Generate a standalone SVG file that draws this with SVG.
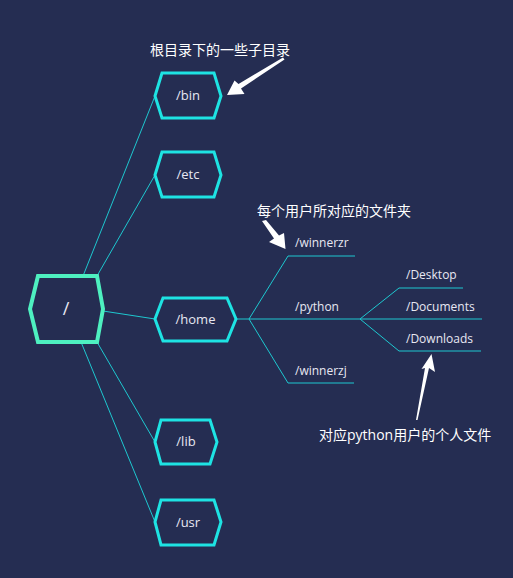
<svg xmlns="http://www.w3.org/2000/svg" width="513" height="578" viewBox="0 0 513 578">
<style>
.bg{fill:#252d52}
.hex{fill:#252d52;stroke:#1ee3e3;stroke-width:3}
.root{fill:#252d52;stroke:#4ef0c0;stroke-width:4}
.ln{fill:none;stroke:#1ec8d0;stroke-width:1}
.t{font-family:"Open Sans","Noto Sans","Liberation Sans",sans-serif;fill:#e8e8f2}
.nt{font-size:13px;text-anchor:middle}
.lt{font-size:12px}
.cn{font-family:"Open Sans","Noto Sans CJK SC",sans-serif;font-size:14px;fill:#ffffff}
.arr{fill:#ffffff}
</style>
<rect class="bg" x="0" y="0" width="513" height="578"/>
<g id="connectors">
<path class="ln" d="M83 276 L155 96"/>
<path class="ln" d="M97 276 L155 175"/>
<path class="ln" d="M103 311 L155 319"/>
<path class="ln" d="M97 342 L155 442"/>
<path class="ln" d="M81 342 L155 522"/>
<path class="ln" d="M236 319 L360 319"/>
<path class="ln" d="M249 319 L288 256 L355 256"/>
<path class="ln" d="M249 319 L288 383 L354 383"/>
<path class="ln" d="M360 319 L482 319"/>
<path class="ln" d="M360 319 L399 288 L463 288"/>
<path class="ln" d="M360 319 L399 351 L481 351"/>
</g>
<g id="node-root">
<polygon class="root" points="30,309 38,276 97,276 103,309 97,342 38,342"/>
<text class="t" x="66" y="315" font-size="18" text-anchor="middle">/</text>
</g>
<g id="node-bin">
<polygon class="hex" points="155,96 162,73 214,73 221,96 214,118 162,118"/>
<text class="t nt" x="188" y="100">/bin</text>
</g>
<g id="node-etc">
<polygon class="hex" points="155,175 162,152 214,152 221,175 214,197 162,197"/>
<text class="t nt" x="188" y="179">/etc</text>
</g>
<g id="node-home">
<polygon class="hex" points="155,319 163,298 227,298 236,319 227,341 163,341"/>
<text class="t nt" x="195.5" y="324">/home</text>
</g>
<g id="node-lib">
<polygon class="hex" points="155,442 161,420 210,420 217,442 210,464 161,464"/>
<text class="t nt" x="186" y="446">/lib</text>
</g>
<g id="node-usr">
<polygon class="hex" points="155,522 161,500 214,500 221,522 214,545 161,545"/>
<text class="t nt" x="188" y="527">/usr</text>
</g>
<g id="node-winnerzr"><text class="t lt" x="295" y="247">/winnerzr</text></g>
<g id="node-python"><text class="t lt" x="295" y="311">/python</text></g>
<g id="node-winnerzj"><text class="t lt" x="295" y="375">/winnerzj</text></g>
<g id="node-desktop"><text class="t lt" x="406" y="279">/Desktop</text></g>
<g id="node-documents"><text class="t lt" x="406" y="311">/Documents</text></g>
<g id="node-downloads"><text class="t lt" x="406" y="343">/Downloads</text></g>
<g id="annotations">
<text class="cn" x="150" y="55">根目录下的一些子目录</text>
<polygon class="arr" points="227,95 234.5,80.5 238.5,84 283,57.5 284.5,59.5 241,88.5 244.5,94"/>
<text class="cn" x="257" y="216">每个用户所对应的文件夹</text>
<polygon class="arr" points="262,221 266,220 279,235.5 284,233 285.5,249 269,242 274,238.5"/>
<text class="cn" x="319" y="440">对应python用户的个人文件</text>
<polygon class="arr" points="431.5,354 435,372 429,368 417.5,420 416,420 425,368 421.5,369"/>
</g>
</svg>
